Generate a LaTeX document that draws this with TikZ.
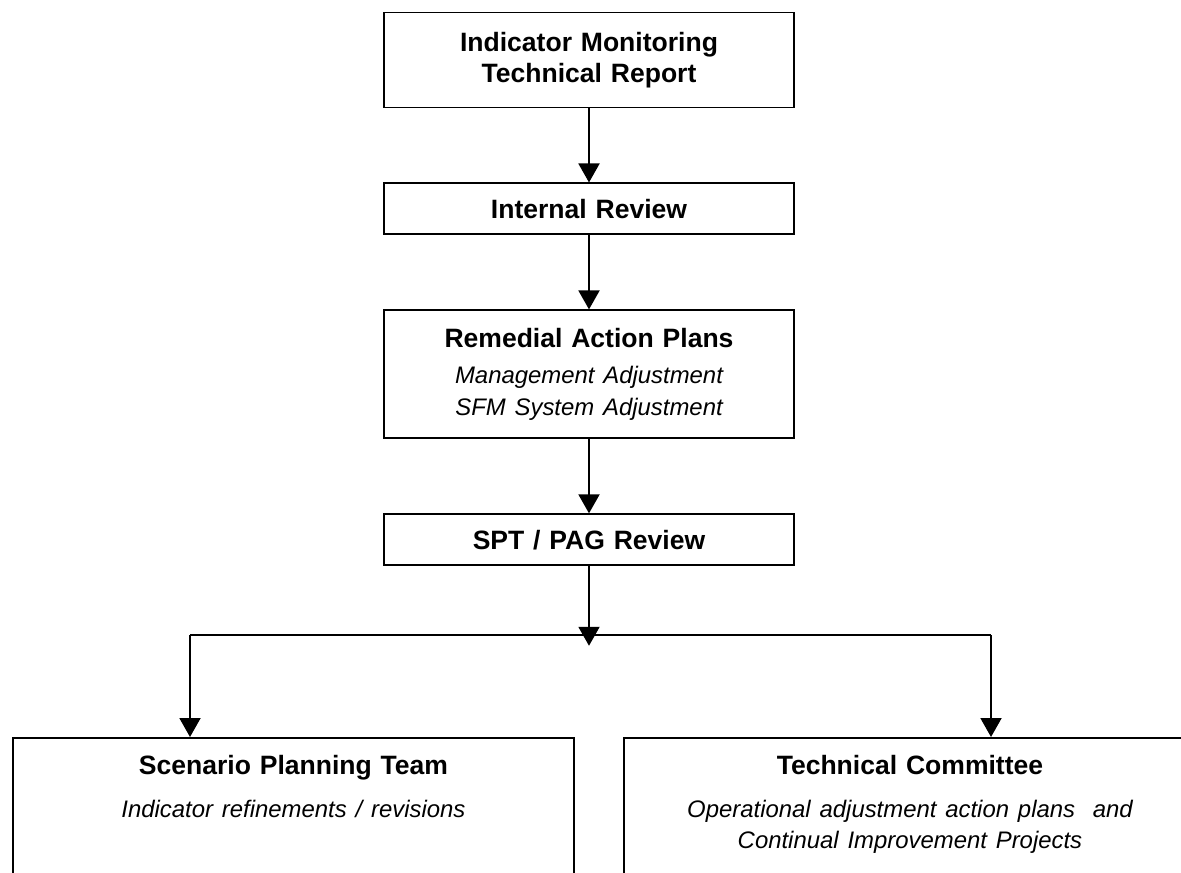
\documentclass[tikz,border=0pt]{standalone}
\usepackage{fontspec}
\setmainfont{Liberation Sans}
\usetikzlibrary{arrows.meta, positioning, calc}
\newcommand{\notetext}[1]{{\fontsize{13.6}{17.6}\selectfont\mdseries\itshape #1}}

\begin{document}
\begin{tikzpicture}[node distance=1.48cm, auto]
        % Define block styles
        \tikzstyle{box} = [rectangle, draw, line width=1.1pt, minimum width=8.2cm, text width=8cm, align=center, inner sep=0pt, font=\fontsize{15.1}{17.6}\selectfont\bfseries]
        \tikzstyle{frame} = [rectangle, draw, line width=1.1pt, minimum height=4cm, anchor=north west]
        \tikzstyle{label} = [align=center, text width=10.5cm, inner sep=0pt, font=\fontsize{15.1}{17.6}\selectfont\bfseries]
        \tikzstyle{line} = [draw, line width=1.1pt, -{Triangle[width=0.42cm, length=0.38cm]}]

        \useasboundingbox (0,0) rectangle (23.62,-17.44);

        % Nodes
        \node [box, minimum height=1.9cm] at (11.78,-1.2) (report) {Indicator Monitoring\\ Technical Report};
        \node [box, minimum height=1.02cm, below=of report] (internal) {Internal Review};
        \node [box, minimum height=2.56cm, below=of internal] (remedial) {Remedial Action Plans\\[2.8pt] \notetext{Management Adjustment}\\[0.5pt] \notetext{SFM System Adjustment}};
        \node [box, minimum height=1.02cm, below=of remedial] (spt) {SPT / PAG Review};

        \coordinate [below=1.59cm of spt] (split);
        \coordinate (splitl) at (3.8,-12.7);
        \coordinate (splitr) at (19.82,-12.7);

        \node [frame, minimum width=11.22cm] at (0.24,-14.74) (team) {};
        \node [frame, minimum width=11.44cm] at (12.46,-14.74) (committee) {};

        % Texts of the lower boxes
        \node [label, below=0.36cm of team.north] (team_txt) {Scenario Planning Team\\[6.8pt] \notetext{Indicator refinements / revisions}};
        \node [label, below=0.36cm of committee.north] (committee_txt) {Technical Committee\\[6.8pt] \notetext{Operational adjustment action plans\ \ and}\\ \notetext{Continual Improvement Projects}};

        % Paths
        \path [line] (report) -- (internal);
        \path [line] (internal) -- (remedial);
        \path [line] (remedial) -- (spt);
        \path [line] (spt) -- (split);
        \draw [line width=1.1pt] (splitl) -- (splitr);
        \path [line] (splitl) -- (team.north -| splitl);
        \path [line] (splitr) -- (committee.north -| splitr);

    \end{tikzpicture}
\end{document}
